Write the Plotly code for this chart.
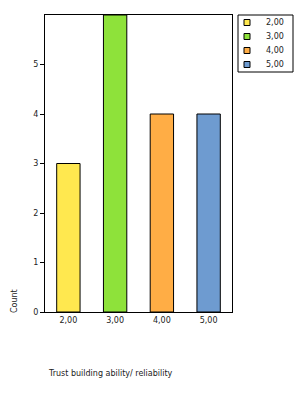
import plotly.graph_objects as go

categories = ["2,00", "3,00", "4,00", "5,00"]
counts = [3, 6, 4, 4]
colors = ["#FFE84F", "#8EE23A", "#FFAD45", "#6E9BD0"]
y_ticks = [0, 1, 2, 3, 4, 5]
x_title = "Trust building ability/ reliability"
y_title = "Count"

W, H = 302, 394
px0, px1, py0, py1 = 45, 232, 15, 312  # plot area in pixels


def fx(p):
    return p / W


def fy(p):
    return 1 - p / H


fig = go.Figure()
for c, v, col in zip(categories, counts, colors):
    fig.add_trace(go.Bar(x=[c], y=[v], name=c, width=0.5, showlegend=False,
                         marker=dict(color=col, line=dict(color="black", width=1))))

font = dict(family="DejaVu Sans", size=8, color="#222222")

shapes = [dict(type="rect", xref="paper", yref="paper",
               x0=fx(238), x1=fx(293), y0=fy(72), y1=fy(15),
               line=dict(color="black", width=1), fillcolor="white")]
annotations = [
    dict(text=y_title, xref="paper", yref="paper", x=fx(14), y=fy(301),
         textangle=-90, showarrow=False, xanchor="center", yanchor="middle", font=font),
    dict(text=x_title, xref="paper", yref="paper", x=fx(46), y=fy(373),
         showarrow=False, xanchor="left", yanchor="middle", font=font),
]
for i, (c, col) in enumerate(zip(categories, colors)):
    cy = 22.5 + 14 * i
    shapes.append(dict(type="rect", xref="paper", yref="paper",
                       x0=fx(244), x1=fx(250), y0=fy(cy + 3), y1=fy(cy - 3),
                       line=dict(color="black", width=1), fillcolor=col))
    annotations.append(dict(text=c, xref="paper", yref="paper", x=fx(264), y=fy(cy),
                            showarrow=False, xanchor="left", yanchor="middle", font=font))

fig.update_layout(
    width=W, height=H,
    margin=dict(l=0, r=0, t=0, b=0, autoexpand=False),
    paper_bgcolor="white", plot_bgcolor="white",
    barmode="overlay", font=font, showlegend=False,
    xaxis=dict(type="category", categoryarray=categories, range=[-0.5, 3.5],
               domain=[fx(px0), fx(px1)],
               showline=True, linecolor="black", linewidth=1, mirror=True,
               ticks="", showgrid=False, tickfont=font),
    yaxis=dict(range=[0, 6], tickvals=y_ticks, ticktext=[str(t) for t in y_ticks],
               domain=[fy(py1), fy(py0)],
               showline=True, linecolor="black", linewidth=1, mirror=True,
               ticks="outside", ticklen=4, tickcolor="black", showgrid=False,
               zeroline=False, tickfont=font),
    shapes=shapes,
    annotations=annotations,
)
fig.write_html("out.html")
